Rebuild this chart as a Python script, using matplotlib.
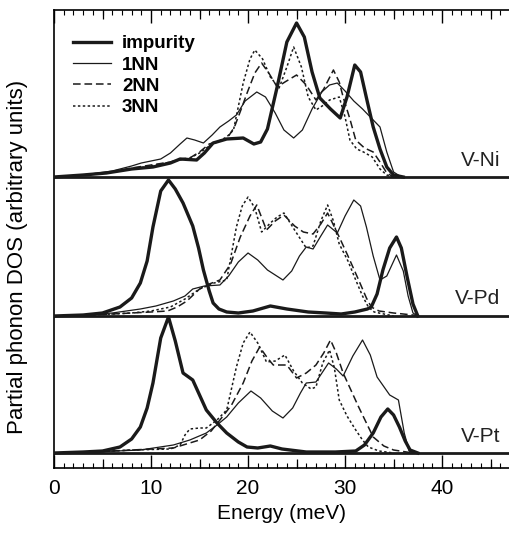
import matplotlib
matplotlib.use('Agg')
import matplotlib.pyplot as plt
import numpy as np

plt.rcParams['font.family'] = ['Liberation Sans', 'DejaVu Sans']

# (energy meV, partial DOS, arbitrary units)
ni_impurity = [(0, 0), (3, 2), (5.4, 4), (8, 8), (10.2, 10), (12, 14), (13, 18), (14.7, 17),
               (15.5, 24), (16.4, 34), (17.8, 38), (19.5, 39), (20.6, 33), (21.3, 35), (22, 48),
               (23, 90), (24, 135), (25, 154), (25.8, 140), (26.6, 105), (27.4, 79), (28.5, 68),
               (29.5, 59), (30.2, 80), (31.0, 112), (31.6, 105), (32.3, 75), (32.9, 50),
               (33.6, 28), (34.3, 10), (35, 2), (36, 0)]
ni_1nn = [(0, 0), (3, 2), (6, 6), (8, 11), (9, 14), (10, 16), (11, 18), (12, 24), (13, 33),
          (13.7, 39), (14.5, 37), (15.4, 34), (16.3, 42), (17.1, 50), (18, 56), (18.8, 62),
          (19.7, 76), (20.9, 85), (21.8, 80), (22.8, 64), (23.7, 47), (24.7, 39), (25.6, 47),
          (26.6, 68), (27.6, 85), (28.4, 92), (29.2, 94), (30, 86), (30.9, 76), (31.8, 68),
          (32.9, 57), (33.6, 50), (34.3, 25), (35, 5), (35.8, 0)]
ni_2nn = [(0, 0), (3, 2), (6, 5), (8, 9), (10, 12), (12, 15), (13, 18), (14, 19), (15, 25),
          (16, 33), (17, 36), (17.8, 38), (18.6, 50), (19.3, 68), (19.9, 84), (20.7, 104),
          (21.4, 114), (22.2, 103), (23, 90), (23.8, 95), (25, 102), (26, 92), (27, 77),
          (27.8, 88), (28.8, 107), (29.4, 95), (29.8, 80), (30.5, 58), (31.1, 37), (32, 29),
          (32.9, 25), (33.6, 15), (34.3, 4), (35, 0)]
ni_3nn = [(0, 0), (3, 2), (6, 5), (8, 8), (10, 11), (12, 15), (13, 17), (14, 19), (15, 24),
          (16, 31), (17, 36), (17.8, 40), (18.5, 47), (19.5, 94), (20.2, 118), (20.7, 127),
          (21.5, 118), (22.3, 100), (23.2, 89), (24, 110), (24.7, 130), (25.5, 110),
          (26.2, 80), (27, 67), (27.8, 72), (28.4, 77), (29.4, 80), (30, 60), (30.5, 37),
          (31.2, 28), (31.9, 25), (32.8, 20), (33.6, 8), (34.3, 2), (35, 0)]

pd_impurity = [(0, 0), (3, 1), (5, 3), (6.8, 9), (8, 18), (8.9, 33), (9.6, 55), (10.2, 89),
               (11, 125), (11.8, 136), (12.5, 127), (13.3, 113), (14.3, 90), (14.9, 68),
               (15.4, 46), (16, 25), (16.4, 13), (17, 7), (17.8, 4), (19, 3), (20.5, 5),
               (22.3, 10), (24, 7), (26.2, 4), (28, 3), (29.6, 2), (31, 4), (32.3, 7),
               (32.7, 9), (33.3, 22), (33.9, 46), (34.6, 68), (35.3, 79), (35.8, 68),
               (36.4, 39), (37, 12), (37.5, 0)]
pd_1nn = [(0, 0), (3, 1), (6, 3), (8.9, 7), (10.5, 10), (12.3, 15), (13.5, 20), (14.3, 27),
          (15.5, 30), (17.1, 31), (18, 40), (19, 54), (20, 63), (21, 56), (22, 46), (23.6, 36),
          (24.5, 45), (25.3, 60), (26, 69), (26.7, 67), (27.5, 80), (28.2, 91), (29.2, 83),
          (30, 100), (30.9, 116), (31.6, 110), (32.2, 89), (32.9, 60), (33.6, 36), (34.3, 40),
          (35.3, 61), (36, 45), (36.5, 20), (37, 3), (37.5, 0)]
pd_2nn = [(0, 0), (4, 1), (8, 3), (10, 4), (11.7, 5), (12.7, 9), (13.7, 15), (15, 27), (16, 32),
          (17.1, 36), (18.2, 52), (19.2, 79), (20.2, 100), (20.9, 111), (21.9, 86), (22.8, 95),
          (23.7, 101), (24.8, 90), (25.7, 84), (26.7, 82), (27.5, 92), (28.2, 103), (29.4, 79),
          (30.3, 60), (31.4, 36), (32.2, 18), (32.7, 9), (33.5, 5), (35, 3), (37, 1), (38, 0)]
pd_3nn = [(0, 0), (4, 1), (8, 3), (10, 5), (12, 9), (13.5, 17), (15, 27), (16.5, 33), (17.8, 36),
          (18.8, 89), (19.4, 110), (20, 119), (20.7, 108), (21.4, 84), (22.3, 93), (23, 99),
          (23.7, 103), (24.8, 86), (26, 68), (26.7, 70), (27.5, 95), (28.2, 111), (28.8, 95),
          (29.4, 72), (30.3, 55), (31.1, 36), (31.8, 20), (32.4, 9), (33, 4), (34, 2), (35, 0)]

pt_impurity = [(0, 0), (3, 1), (5, 2), (6.8, 6), (8, 14), (8.9, 26), (9.6, 45), (10.2, 70),
               (11, 115), (11.8, 136), (12.5, 112), (13.3, 80), (14.3, 73), (15, 58),
               (15.7, 43), (16.8, 30), (17.8, 20), (19, 11), (19.9, 6), (21, 5), (22.3, 7),
               (23.5, 4), (26, 1), (29, 1), (31.1, 2), (32, 8), (32.9, 20), (33.7, 36),
               (34.4, 44), (35, 38), (35.6, 26), (36.2, 12), (36.7, 3), (37.5, 0)]
pt_1nn = [(0, 0), (4, 1), (8.9, 3), (12.3, 8), (14, 13), (15.7, 20), (16.8, 28), (17.8, 36),
          (19, 50), (20.3, 62), (21.3, 55), (22.5, 42), (23.6, 35), (24.6, 45), (25.4, 60),
          (26, 70), (27, 71), (28.3, 90), (29.1, 84), (29.8, 77), (30.8, 97), (31.8, 113),
          (32.6, 98), (33.3, 76), (34.6, 58), (35.5, 53), (36.1, 20), (36.6, 2), (37, 0)]
pt_2nn = [(0, 0), (4, 1), (8, 3), (12.3, 5), (15, 13), (16.2, 22), (17.1, 33), (18.3, 48),
          (19.5, 70), (20.4, 92), (21.2, 106), (22, 95), (22.6, 88), (24, 88), (25, 75),
          (26, 80), (27, 88), (27.8, 100), (28.5, 113), (29.1, 100), (29.8, 80), (30.6, 63),
          (31.4, 46), (32.2, 30), (32.9, 16), (34, 7), (35, 3), (37, 0)]
pt_3nn = [(0, 0), (4, 1), (8, 3), (12, 4), (13, 8), (13.5, 18), (14, 24), (15, 25), (15.7, 25),
          (16.8, 33), (17.8, 43), (18.8, 86), (19.5, 110), (20.2, 121), (21, 110), (21.9, 91),
          (22.8, 92), (23.8, 98), (24.7, 82), (25.6, 70), (26.5, 64), (27, 66), (27.7, 90),
          (28.4, 103), (28.9, 85), (29.4, 53), (30.2, 37), (31.1, 23), (31.8, 13), (32.4, 6),
          (33.5, 2), (35, 0)]

systems = ['V-Ni', 'V-Pd', 'V-Pt']
offsets = [276, 137, 0]
panels = [
    [ni_impurity, ni_1nn, ni_2nn, ni_3nn],
    [pd_impurity, pd_1nn, pd_2nn, pd_3nn],
    [pt_impurity, pt_1nn, pt_2nn, pt_3nn],
]
series_labels = ['impurity', '1NN', '2NN', '3NN']

# line styles per series
styles = [
    dict(lw=2.4, ls='-'),
    dict(lw=0.9, ls='-'),
    dict(lw=1.1, ls=(0, (5, 2.5))),
    dict(lw=1.1, ls=(0, (1.6, 1.6))),
]

fig = plt.figure(figsize=(5.1, 5.33), dpi=100)
ax = fig.add_axes([54 / 510, 65 / 533, 1 - 54 / 510, 458 / 533])

for name, off, curves in zip(systems, offsets, panels):
    ax.axhline(off, color='#1a1a1a', lw=2.0, zorder=1)
    for k, (pts, st) in enumerate(zip(curves, styles)):
        arr = np.array(pts, dtype=float)
        ax.plot(arr[:, 0], arr[:, 1] + off, color='#1a1a1a', solid_joinstyle='round',
                label=series_labels[k] if off == offsets[0] else None, zorder=3, **st)
    ax.text(46.0, off + 17, name, ha='right', va='center', fontsize=15, color='#222222')

ax.set_xlim(0, 47)
ax.set_ylim(-15, 443)
ax.set_yticks([])
ax.set_xticks(np.arange(0, 50, 10))
ax.set_xticks(np.arange(0, 48, 1), minor=True)
ax.tick_params(axis='x', which='major', direction='in', length=9.5, width=1.0,
               top=True, labelsize=15, pad=8)
ax.tick_params(axis='x', which='minor', direction='in', length=3.5, width=0.8, top=True)
for s in ['left', 'top', 'bottom']:
    ax.spines[s].set_linewidth(1.2)
ax.spines['right'].set_visible(False)

# medium ticks at the fives
for loc in ['bottom', 'top']:
    sec = ax.secondary_xaxis(loc)
    sec.set_xticks(np.arange(5, 50, 10))
    sec.tick_params(direction='in', length=6.5, width=0.9, labelbottom=False, labeltop=False)
    sec.spines[loc].set_visible(False)

ax.set_xlabel('Energy (meV)', fontsize=15, labelpad=4)
ax.set_ylabel('Partial phonon DOS (arbitrary units)', fontsize=16)
ax.yaxis.set_label_coords(-0.058, 0.46)

leg = ax.legend(loc='upper left', bbox_to_anchor=(0.042, 0.945), frameon=False,
                borderpad=0, borderaxespad=0, handlelength=2.0, handletextpad=0.6,
                labelspacing=0.22, prop=dict(size=13.5, weight='bold'))

fig.savefig('out.png', dpi=100)
